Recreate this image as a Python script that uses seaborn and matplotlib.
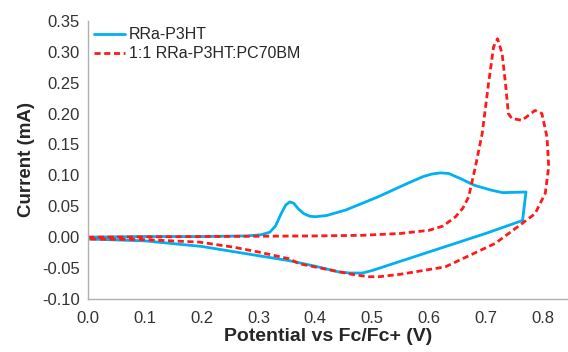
import matplotlib
matplotlib.use("Agg")
import matplotlib.pyplot as plt
import seaborn as sns
import pandas as pd

# RRa-P3HT cyclic voltammogram (forward then reverse scan)
p3ht_v = [0.0, 0.1, 0.2, 0.28, 0.305, 0.32, 0.33, 0.34, 0.348, 0.355, 0.362, 0.37, 0.38, 0.39,
          0.40, 0.42, 0.454, 0.51, 0.56, 0.59, 0.605, 0.62, 0.635, 0.655, 0.68, 0.71, 0.73,
          0.771, 0.768, 0.765, 0.70, 0.60, 0.50, 0.483, 0.46, 0.44, 0.40, 0.354, 0.28, 0.2,
          0.1, 0.0]
p3ht_i = [0.000, 0.001, 0.001, 0.002, 0.004, 0.008, 0.018, 0.038, 0.052, 0.057, 0.055, 0.046,
          0.038, 0.034, 0.033, 0.035, 0.044, 0.065, 0.086, 0.098, 0.102, 0.104, 0.103, 0.095,
          0.084, 0.076, 0.072, 0.073, 0.05, 0.027, 0.006, -0.024, -0.054, -0.058, -0.058,
          -0.056, -0.047, -0.038, -0.027, -0.015, -0.006, -0.003]

# 1:1 RRa-P3HT:PC70BM
blend_v = [0.0, 0.2, 0.4, 0.483, 0.55, 0.6, 0.625, 0.647, 0.66, 0.670, 0.682, 0.694, 0.705,
           0.714, 0.721, 0.729, 0.735, 0.740, 0.746, 0.764, 0.787, 0.799, 0.808, 0.811, 0.805,
           0.787, 0.764, 0.717, 0.629, 0.55, 0.512, 0.495, 0.47, 0.442, 0.372, 0.354, 0.30,
           0.255, 0.196, 0.1, 0.0]
blend_i = [0.000, 0.001, 0.002, 0.003, 0.006, 0.011, 0.018, 0.033, 0.047, 0.065, 0.114, 0.168,
           0.248, 0.308, 0.321, 0.297, 0.248, 0.200, 0.192, 0.189, 0.205, 0.200, 0.162, 0.114,
           0.071, 0.038, 0.022, -0.010, -0.048, -0.060, -0.064, -0.064, -0.061, -0.056, -0.043,
           -0.035, -0.024, -0.016, -0.008, -0.004, -0.003]

labels = ["RRa-P3HT", "1:1 RRa-P3HT:PC70BM"]

sns.set_style("white")
plt.rcParams["font.family"] = ["Liberation Sans", "DejaVu Sans"]

fig = plt.figure(figsize=(5.68, 3.52), dpi=100)
ax = fig.add_axes([0.155, 0.1506, 0.845, 0.7904])

df1 = pd.DataFrame({"v": p3ht_v, "i": p3ht_i})
df2 = pd.DataFrame({"v": blend_v, "i": blend_i})
sns.lineplot(data=df1, x="v", y="i", sort=False, estimator=None, color="#00b0f0",
             lw=2, label=labels[0], ax=ax)
sns.lineplot(data=df2, x="v", y="i", sort=False, estimator=None, color="#ff1a1a",
             lw=2, ls=(0, (2.2, 1.3)), label=labels[1], ax=ax)

ax.set_xlim(0, 0.845)
ax.set_ylim(-0.10, 0.35)
ax.set_xticks([0.0, 0.1, 0.2, 0.3, 0.4, 0.5, 0.6, 0.7, 0.8])
ax.set_yticks([-0.10, -0.05, 0.0, 0.05, 0.10, 0.15, 0.20, 0.25, 0.30, 0.35])
ax.set_xticklabels([f"{t:.1f}" for t in ax.get_xticks()])
ax.set_yticklabels([f"{t:.2f}" for t in ax.get_yticks()])

for s in ["top", "right"]:
    ax.spines[s].set_visible(False)
for s in ["left", "bottom"]:
    ax.spines[s].set_color("#b0b0b0")
    ax.spines[s].set_linewidth(1)
ax.tick_params(axis="both", which="major", direction="out", length=4, width=1,
               color="#b0b0b0", labelsize=12, labelcolor="#333333", pad=2)
ax.tick_params(axis="x", pad=5)

ax.set_xlabel("Potential vs Fc/Fc+ (V)", fontsize=14, fontweight="bold", labelpad=1)
ax.set_ylabel("Current (mA)", fontsize=13.5, fontweight="bold", labelpad=5)

ax.legend(loc="upper left", bbox_to_anchor=(0.0, 1.0), frameon=False, fontsize=11.5,
          handlelength=1.9, handletextpad=0.25, labelspacing=0.25, borderaxespad=0.1,
          borderpad=0.3)

fig.savefig("out.png", dpi=100)
